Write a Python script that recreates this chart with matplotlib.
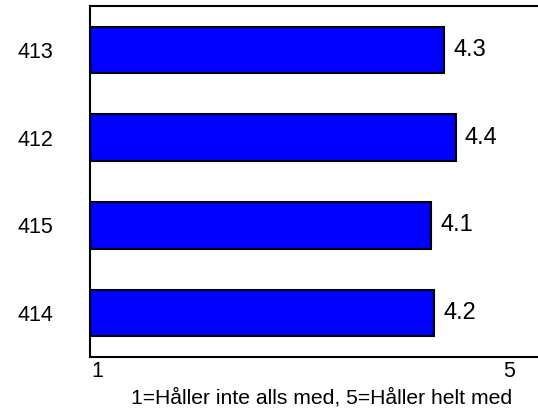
import matplotlib
matplotlib.use('Agg')
import matplotlib.pyplot as plt
import matplotlib.transforms as mtransforms

plt.rcParams['font.family'] = ['Liberation Sans', 'DejaVu Sans']

# Data (top to bottom)
groups = ['413', '412', '415', '414']
means = [4.26, 4.37, 4.14, 4.17]
scale_ticks = [1, 5]
x_caption = '1=Håller inte alls med, 5=Håller helt med'

fig = plt.figure(figsize=(5.38, 4.13), dpi=100)
# axes runs past the right edge of the figure like in the original
ax = fig.add_axes([90.5 / 538, 1 - 357 / 413, 488 / 538, 351 / 413])

ypos = range(len(groups))
ax.barh(ypos, [m - 1 for m in means], left=1, height=0.53,
        color='#0000FF', edgecolor='black', linewidth=1.5)

# value labels next to the bars
for y, m in zip(ypos, means):
    ax.annotate('%.1f' % m, xy=(m, y), xytext=(6.5, 0),
                textcoords='offset points', va='center', ha='left', fontsize=17)

ax.set_xlim(1, 5.5)
ax.set_ylim(-0.5, len(groups) - 0.5)
ax.invert_yaxis()

ax.set_yticks(list(ypos))
ax.set_yticklabels(groups, fontsize=15.5)
ax.tick_params(axis='y', length=0, pad=27)

ax.set_xticks(scale_ticks)
ax.set_xticklabels([str(t) for t in scale_ticks], fontsize=15.5)
ax.tick_params(axis='x', length=0, pad=3)
# nudge the two scale labels like the original does
shifts = [6.5, -15]
for lab, dx in zip(ax.get_xticklabels(), shifts):
    lab.set_transform(lab.get_transform() +
                      mtransforms.ScaledTranslation(dx / 100, 0, fig.dpi_scale_trans))

for side in ['left', 'top', 'bottom']:
    ax.spines[side].set_linewidth(1.5)
ax.spines['right'].set_visible(False)

fig.text(322 / 538, 1 - 398 / 413, x_caption, ha='center', va='center', fontsize=15.2)

fig.savefig('out.png', dpi=100)
